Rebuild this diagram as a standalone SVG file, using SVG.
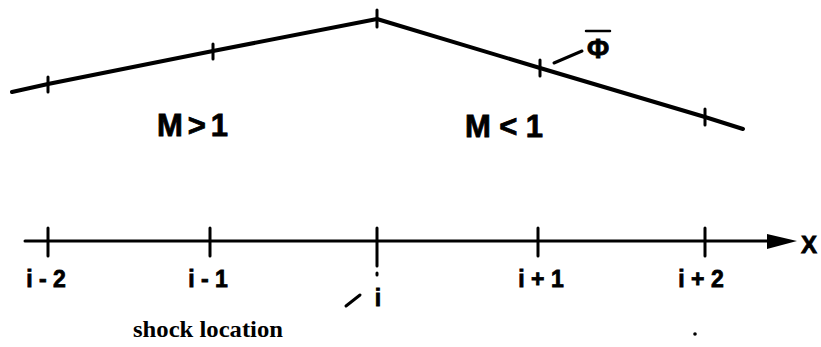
<svg xmlns="http://www.w3.org/2000/svg" width="821" height="347" viewBox="0 0 821 347">
<defs>
<style>
.ln{fill:none;stroke:#000;stroke-linecap:round;stroke-linejoin:round}
.lb{font-family:"Liberation Sans",Arial,sans-serif;font-weight:bold;fill:#000;stroke:#000;stroke-width:0.8}
.sr{font-family:"Liberation Serif","Times New Roman",serif;font-weight:bold;fill:#000}
</style>
</defs>
<rect width="821" height="347" fill="#fff"/>
<g id="curve">
<polyline class="ln" stroke-width="4" points="12,92 48,84 213,51 377,19 540,68 705,117 743,129"/>
<path class="ln" stroke-width="3" d="M48,77V92 M213,44V59 M377,10V27 M540,60V76 M705,109V125"/>
</g>
<g id="phi-label">
<line class="ln" stroke-width="3" x1="554" y1="63" x2="582" y2="51"/>
<line class="ln" stroke-width="2.5" x1="586" y1="31" x2="610" y2="31"/>
<text class="lb" x="598" y="58" font-size="27" text-anchor="middle">Φ</text>
</g>
<g id="regions">
<text class="lb" x="157" y="136" font-size="31" textLength="71" lengthAdjust="spacing">M &gt; 1</text>
<text class="lb" x="465" y="137" font-size="31" textLength="78" lengthAdjust="spacing">M &lt; 1</text>
</g>
<g id="axis">
<line class="ln" stroke-width="3" x1="25" y1="241" x2="772" y2="241"/>
<polygon points="767,234 797,241 767,249" fill="#000"/>
<path class="ln" stroke-width="3" d="M48,228V256 M210,228V256 M377,228V266 M538,228V256 M705,228V256"/>
<line class="ln" stroke-width="3" x1="377" y1="273" x2="377" y2="275"/>
<text class="lb" x="809" y="253" font-size="24" text-anchor="middle">X</text>
</g>
<g id="labels">
<text class="lb" x="46" y="287" font-size="23" text-anchor="middle">i - 2</text>
<text class="lb" x="208" y="287" font-size="23" text-anchor="middle">i - 1</text>
<text class="lb" x="541" y="287" font-size="23" text-anchor="middle">i + 1</text>
<text class="lb" x="701" y="287" font-size="23" text-anchor="middle">i + 2</text>
<text class="lb" x="378" y="306" font-size="23" text-anchor="middle">i</text>
<line class="ln" stroke-width="3" x1="346" y1="306" x2="360" y2="295"/>
<text class="sr" x="133" y="337" font-size="24" textLength="150" lengthAdjust="spacingAndGlyphs">shock location</text>
<circle cx="695" cy="334" r="1.8" fill="#000"/>
</g>
</svg>
